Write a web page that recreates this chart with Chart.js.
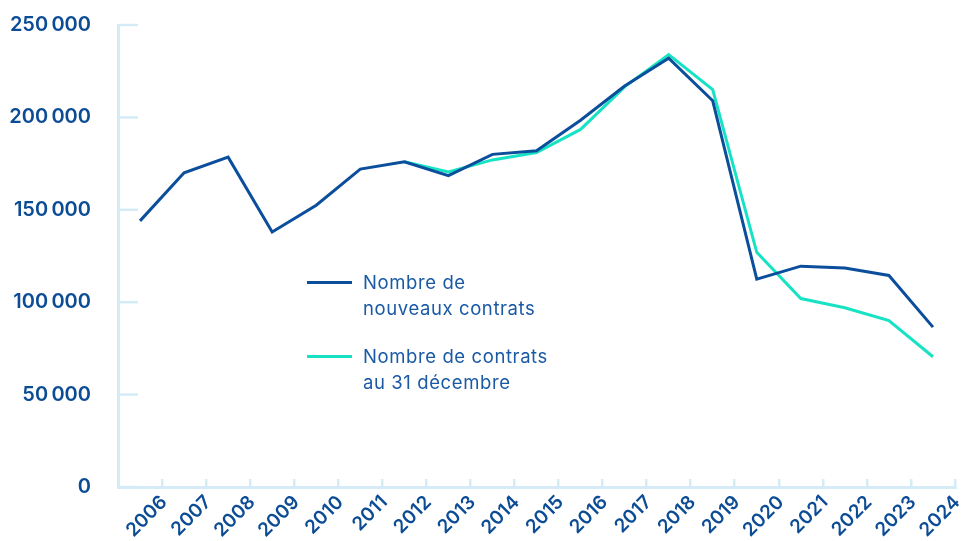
<!DOCTYPE html>
<html lang="fr">
<head>
<meta charset="utf-8">
<script src="https://cdn.jsdelivr.net/npm/chart.js@4.4.1/dist/chart.umd.min.js"></script>
<style>
  html, body { margin: 0; padding: 0; background: #ffffff; }
  #wrap { position: relative; width: 965px; height: 541px; }
  canvas { display: block; }
  #legend { position: absolute; left: 307px; top: 269px; font-family: Inter, "Noto Sans", sans-serif; font-size: 18.5px; letter-spacing: 0.6px; color: #1a5aa5; line-height: 26px; }
  .item { display: flex; align-items: flex-start; margin-bottom: 22px; }
  .swatch { width: 45px; height: 3px; margin-top: 12px; margin-right: 11px; flex: none; }
</style>
</head>
<body>
<div id="wrap">
  <canvas id="c" width="965" height="541"></canvas>
  <div id="legend"></div>
</div>
<script>
// ---- data ----
const years = ["2006","2007","2008","2009","2010","2011","2012","2013","2014","2015","2016","2017","2018","2019","2020","2021","2022","2023","2024"];
const nouveauxContrats = [144000, 170000, 178500, 138000, 152500, 172000, 176000, 168500, 180000, 182000, 198500, 217000, 232000, 209000, 112500, 119500, 118500, 114500, 86500];
const contrats31Dec = [null, null, null, null, null, null, 176000, 170500, 177000, 181000, 193500, 216500, 234000, 215000, 127000, 102000, 97000, 90000, 70500];
const seriesNames = [["Nombre de", "nouveaux contrats"], ["Nombre de contrats", "au 31 décembre"]];
const yTickValues = [0, 50000, 100000, 150000, 200000, 250000];

const darkBlue = "#0b4f9c";
const teal = "#17e3c4";
const axisColor = "#d5ecf8";
const textColor = "#0c4c95";

function fmt(v) {
  return String(v).replace(/\B(?=(\d{3})+(?!\d))/g, "\u202F");
}

// legend (HTML text)
const legendEl = document.getElementById("legend");
[[seriesNames[0], darkBlue], [seriesNames[1], teal]].forEach(([lines, col]) => {
  const item = document.createElement("div");
  item.className = "item";
  const sw = document.createElement("div");
  sw.className = "swatch";
  sw.style.background = col;
  const txt = document.createElement("div");
  txt.innerHTML = lines.join("<br>");
  item.appendChild(sw);
  item.appendChild(txt);
  legendEl.appendChild(item);
});

// inward tick marks on the y axis
const innerYTicks = {
  id: "innerYTicks",
  afterDraw(chart) {
    const y = chart.scales.y;
    const ctx = chart.ctx;
    const left = chart.chartArea.left;
    ctx.save();
    ctx.strokeStyle = axisColor;
    ctx.lineWidth = 2.5;
    y.ticks.forEach(t => {
      const py = y.getPixelForValue(t.value);
      ctx.beginPath();
      ctx.moveTo(left, py);
      ctx.lineTo(left + 20, py);
      ctx.stroke();
    });
    ctx.restore();
  }
};

new Chart(document.getElementById("c"), {
  type: "line",
  data: {
    labels: years,
    datasets: [
      { label: seriesNames[0].join(" "), data: nouveauxContrats, borderColor: darkBlue, borderWidth: 3, pointRadius: 0, tension: 0, fill: false },
      { label: seriesNames[1].join(" "), data: contrats31Dec, borderColor: teal, borderWidth: 3, pointRadius: 0, tension: 0, fill: false }
    ]
  },
  plugins: [innerYTicks],
  options: {
    responsive: false,
    animation: false,
    events: [],
    layout: { padding: { top: 25, right: 10, left: 0, bottom: 0 } },
    plugins: { legend: { display: false }, tooltip: { enabled: false } },
    scales: {
      x: {
        type: "category",
        offset: true,
        afterFit(scale) { scale.height = 54; },
        grid: { offset: true, drawOnChartArea: false, tickLength: -8, color: axisColor, lineWidth: 2.5 },
        border: { color: axisColor, width: 3 },
        ticks: {
          minRotation: 45, maxRotation: 45, autoSkip: false,
          labelOffset: 24, padding: 12,
          color: textColor,
          font: { family: "Inter", size: 19, weight: "600" }
        }
      },
      y: {
        min: 0, max: 250000,
        afterFit(scale) { scale.width = 118; },
        afterBuildTicks(scale) { scale.ticks = yTickValues.map(v => ({ value: v })); },
        grid: { drawOnChartArea: false, tickLength: 27, tickColor: "rgba(0,0,0,0)", color: axisColor },
        border: { color: axisColor, width: 3 },
        ticks: {
          padding: 0,
          color: textColor,
          font: { family: "Inter", size: 20, weight: "600" },
          callback: (v) => fmt(v)
        }
      }
    }
  }
});
</script>
</body>
</html>
